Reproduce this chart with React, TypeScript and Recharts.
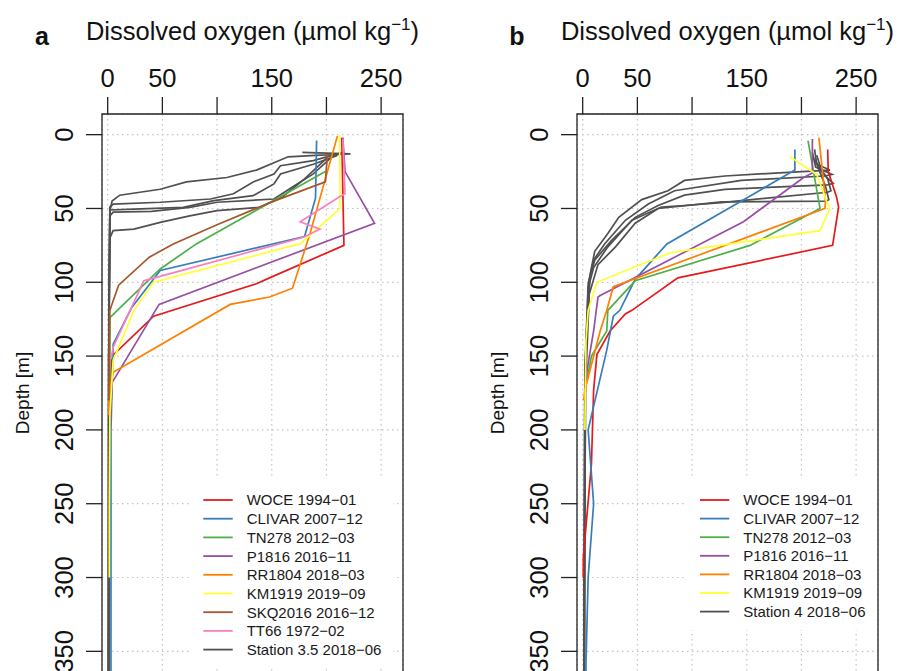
import React from 'react';
import { ScatterChart, Scatter, XAxis, YAxis, CartesianGrid, ReferenceArea, Legend } from 'recharts';

type Pt = [number, number]; // [oxygen µmol/kg, depth m]

const X_TICKS = [0, 50, 100, 150, 200, 250];
const X_TICK_LABELS: Record<number, string> = { 0: '0', 50: '50', 100: '', 150: '150', 200: '', 250: '250' };
const Y_TICKS = [0, 50, 100, 150, 200, 250, 300, 350];
const X_DOMAIN: [number, number] = [-5.2, 270];
const Y_DOMAIN: [number, number] = [-14, 364];

const FONT = "'Liberation Sans', Arial, Helvetica, sans-serif";

const COLORS = {
  woce: '#E41A1C',
  clivar: '#377EB8',
  tn278: '#4DAF4A',
  p1816: '#984EA3',
  rr1804: '#FF7F00',
  km1919: '#FFFF33',
  skq: '#A65628',
  tt66: '#F781BF',
  station: '#505050',
};

// ---------- Panel a ----------
const woceA: Pt[] = [[214, 2], [216, 75], [148, 97], [136, 101], [42, 123], [4, 150], [2, 175], [2, 200]];
const clivarA: Pt[] = [[191, 4], [190, 43], [180, 69], [48, 92], [22, 117], [5, 142], [3, 200], [3, 260], [3, 320], [3, 380]];
const tn278A: Pt[] = [[199, 25], [81, 74], [48, 91], [2, 124], [2, 200]];
const p1816A: Pt[] = [[215, 2], [217, 25], [244, 60], [47, 115], [4, 168], [2, 200]];
const rr1804A: Pt[] = [[210, 1], [185, 67], [169, 104], [148, 110], [112, 115], [5, 161], [1, 175], [1, 190]];
const km1919A: Pt[] = [[212, 0], [212.5, 50], [176, 74], [170, 75], [42, 100], [24, 119], [5, 153], [2, 190], [1.5, 250], [1.5, 300]];
const skqA: Pt[] = [[201, 13], [199, 32], [152, 45], [100, 61], [60, 74], [38, 83], [10, 102], [2, 119], [1, 180]];
const tt66A: Pt[] = [[215, 3], [217, 40], [212, 42], [176, 59], [194, 64], [179, 69.5], [33, 99], [5, 144], [3, 152]];
const stationA1: Pt[] = [[178, 12], [222, 13], [190, 14], [165, 15], [152, 19], [136, 24], [109, 29], [72, 32], [48, 37], [11, 41], [4, 45], [2, 52], [1, 120], [0.5, 380]];
const stationA2: Pt[] = [[215, 12], [188, 17.6], [158, 21], [152, 26.6], [133, 32], [115, 40], [94, 43.6], [48, 45.8], [5, 47], [2, 49], [1, 150], [0.5, 380]];
const stationA3: Pt[] = [[210, 14], [188, 20], [158, 26.6], [152, 33.4], [133, 41.3], [97, 44.7], [69, 49.2], [24, 50.4], [2, 51], [1, 150], [1, 380]];
const stationA4: Pt[] = [[205, 15], [188, 26.6], [170, 35], [152, 43.6], [100, 45.8], [75, 49.2], [40, 52], [5, 52.5], [2, 55], [1, 150], [1, 380]];
const stationA5: Pt[] = [[200, 16], [180, 30], [160, 42], [139, 49.2], [100, 51.5], [75, 55], [48, 59.4], [24, 64], [5, 65], [2, 70], [1, 150], [1, 380]];

// ---------- Panel b ----------
const woceB: Pt[] = [[224, 10], [224.5, 25], [232, 42], [234, 49], [228.5, 75], [87, 97], [45, 119], [39, 121.5], [25, 133], [13, 149], [10, 173], [8, 223], [0.6, 286], [0.5, 300]];
const clivarB: Pt[] = [[194, 10], [194, 24], [77, 74], [48, 98], [34, 119], [28, 123], [22, 146], [5, 200], [10, 250], [5, 300], [3, 358], [3, 380]];
const tn278B: Pt[] = [[206, 4], [217, 50], [153, 75], [48, 99], [23, 119], [22, 133], [8, 150], [3, 170]];
const p1816B: Pt[] = [[210, 3], [210, 26], [202, 29], [147, 59], [16, 109], [14, 110], [10, 133], [5, 155], [2, 170]];
const rr1804B: Pt[] = [[216, 2], [222, 45], [221.5, 50], [28, 103], [22, 119], [16, 133], [2, 173], [1, 180]];
const km1919B: Pt[] = [[189.5, 15], [214, 27], [223, 45], [226, 50], [217, 65], [80, 80], [13, 100], [5, 119], [3, 140], [2, 200]];
const stationB1: Pt[] = [[212, 10], [214, 20], [226, 24], [188, 25.5], [130, 28], [93, 31], [78, 38], [54, 44], [33, 56], [23, 67], [11, 79], [7, 94], [3, 140], [2, 250], [1.5, 380]];
const stationB2: Pt[] = [[210, 12], [213, 22], [228, 27], [221, 28], [145, 31], [84, 38], [60, 47], [39, 58], [20, 74], [10, 85], [5, 101], [2, 160], [1.5, 380]];
const stationB3: Pt[] = [[214, 14], [219, 26], [229, 33], [224, 34], [130, 37], [93, 41], [69, 48], [48, 56], [26, 72], [11, 85], [6, 98], [2, 160], [1, 380]];
const stationB4: Pt[] = [[211, 16], [224, 30], [227, 38], [224, 39], [127, 46], [93, 48], [72, 49], [45, 58], [23, 76], [10, 90], [5, 104], [2, 170], [1, 380]];
const stationB5: Pt[] = [[213, 18], [222, 35], [225, 44], [223, 45], [127, 45.5], [69, 50], [48, 60], [30, 76], [14, 88], [6, 108], [2, 180], [1.5, 380]];

type Series = { name: string; color: string; data: Pt[]; legend: boolean };

const SERIES_A: Series[] = [
  { name: 'Station 3.5 2018−06', color: COLORS.station, data: stationA1, legend: false },
  { name: 'Station 3.5 2018−06 (2)', color: COLORS.station, data: stationA2, legend: false },
  { name: 'Station 3.5 2018−06 (3)', color: COLORS.station, data: stationA3, legend: false },
  { name: 'Station 3.5 2018−06 (4)', color: COLORS.station, data: stationA4, legend: false },
  { name: 'Station 3.5 2018−06 (5)', color: COLORS.station, data: stationA5, legend: false },
  { name: 'WOCE 1994−01', color: COLORS.woce, data: woceA, legend: true },
  { name: 'CLIVAR 2007−12', color: COLORS.clivar, data: clivarA, legend: true },
  { name: 'TN278 2012−03', color: COLORS.tn278, data: tn278A, legend: true },
  { name: 'P1816 2016−11', color: COLORS.p1816, data: p1816A, legend: true },
  { name: 'RR1804 2018−03', color: COLORS.rr1804, data: rr1804A, legend: true },
  { name: 'KM1919 2019−09', color: COLORS.km1919, data: km1919A, legend: true },
  { name: 'SKQ2016 2016−12', color: COLORS.skq, data: skqA, legend: true },
  { name: 'TT66 1972−02', color: COLORS.tt66, data: tt66A, legend: true },
];
const LEGEND_A = [
  { name: 'WOCE 1994−01', color: COLORS.woce },
  { name: 'CLIVAR 2007−12', color: COLORS.clivar },
  { name: 'TN278 2012−03', color: COLORS.tn278 },
  { name: 'P1816 2016−11', color: COLORS.p1816 },
  { name: 'RR1804 2018−03', color: COLORS.rr1804 },
  { name: 'KM1919 2019−09', color: COLORS.km1919 },
  { name: 'SKQ2016 2016−12', color: COLORS.skq },
  { name: 'TT66 1972−02', color: COLORS.tt66 },
  { name: 'Station 3.5 2018−06', color: COLORS.station },
];

const SERIES_B: Series[] = [
  { name: 'Station 4 2018−06', color: COLORS.station, data: stationB1, legend: false },
  { name: 'Station 4 2018−06 (2)', color: COLORS.station, data: stationB2, legend: false },
  { name: 'Station 4 2018−06 (3)', color: COLORS.station, data: stationB3, legend: false },
  { name: 'Station 4 2018−06 (4)', color: COLORS.station, data: stationB4, legend: false },
  { name: 'Station 4 2018−06 (5)', color: COLORS.station, data: stationB5, legend: false },
  { name: 'WOCE 1994−01', color: COLORS.woce, data: woceB, legend: true },
  { name: 'CLIVAR 2007−12', color: COLORS.clivar, data: clivarB, legend: true },
  { name: 'TN278 2012−03', color: COLORS.tn278, data: tn278B, legend: true },
  { name: 'P1816 2016−11', color: COLORS.p1816, data: p1816B, legend: true },
  { name: 'RR1804 2018−03', color: COLORS.rr1804, data: rr1804B, legend: true },
  { name: 'KM1919 2019−09', color: COLORS.km1919, data: km1919B, legend: true },
];
const LEGEND_B = [
  { name: 'WOCE 1994−01', color: COLORS.woce },
  { name: 'CLIVAR 2007−12', color: COLORS.clivar },
  { name: 'TN278 2012−03', color: COLORS.tn278 },
  { name: 'P1816 2016−11', color: COLORS.p1816 },
  { name: 'RR1804 2018−03', color: COLORS.rr1804 },
  { name: 'KM1919 2019−09', color: COLORS.km1919 },
  { name: 'Station 4 2018−06', color: COLORS.station },
];

// ---------- layout ----------
const CHART_W = 418;
const CHART_H = 674;
const AXIS_TOP_H = 106;
const AXIS_LEFT_W = 94;
const MARGIN = { top: 0, right: 23, bottom: 10, left: 0 };
const PLOT_CX = AXIS_LEFT_W + (CHART_W - AXIS_LEFT_W - MARGIN.right) / 2;

type LegendBoxCfg = { left: number; top: number; width: number; height: number; first: number; step: number; lx1: number; lx2: number; tx: number };

const LegendBox = ({ entries, cfg }: { entries: { name: string; color: string }[]; cfg: LegendBoxCfg }) => (
  <svg width={cfg.width} height={cfg.height} style={{ display: 'block' }}>
    {entries.map((e, i) => {
      const cy = cfg.first + i * cfg.step;
      return (
        <g key={e.name}>
          <line x1={cfg.lx1} x2={cfg.lx2} y1={cy} y2={cy} stroke={e.color} strokeWidth={1.8} />
          <text x={cfg.tx} y={cy + 5.4} fontSize={15} fontFamily={FONT} fill="#1a1a1a">{e.name}</text>
        </g>
      );
    })}
  </svg>
);

const renderNothing = () => <g />;

const XTick = (props: any) => {
  const { x, payload } = props;
  const label = X_TICK_LABELS[payload.value] ?? '';
  if (!label) return <g />;
  return (
    <text x={x} y={78.5} textAnchor="middle" fontSize={25.5} fontFamily={FONT} fill="#111">{label}</text>
  );
};

const YTick = (props: any) => {
  const { y, payload } = props;
  const bx = 65;
  return (
    <text x={bx} y={y} transform={`rotate(-90 ${bx} ${y})`} textAnchor="middle" fontSize={25.5} fontFamily={FONT} fill="#111">
      {String(payload.value)}
    </text>
  );
};

const Panel = ({ letter, series, legend, legendCfg, left }: { letter: string; series: Series[]; legend: { name: string; color: string }[]; legendCfg: LegendBoxCfg; left: number }) => {
  const titleLabel = () => (
    <g>
      <text x={34} y={37} textAnchor="middle" fontSize={25} fontWeight="bold" fontFamily={FONT} fill="#111">{letter}</text>
      <text x={PLOT_CX} y={32} textAnchor="middle" fontSize={25.5} fontFamily={FONT} fill="#111">
        Dissolved oxygen (µmol kg
        <tspan fontSize={17} dy={-10}>−1</tspan>
        <tspan dy={10}>)</tspan>
      </text>
    </g>
  );
  const depthLabel = () => (
    <text x={21} y={385} transform={`rotate(-90 21 385)`} textAnchor="middle" fontSize={19} fontFamily={FONT} fill="#111">Depth [m]</text>
  );
  return (
    <div style={{ position: 'absolute', left, top: 0 }}>
      <ScatterChart width={CHART_W} height={CHART_H} margin={MARGIN}>
        <CartesianGrid stroke="#c4c4c4" strokeDasharray="1.5 3.5" strokeWidth={1.2} />
        <XAxis
          type="number"
          dataKey="o"
          orientation="top"
          domain={X_DOMAIN}
          ticks={X_TICKS}
          interval={0}
          allowDataOverflow
          height={AXIS_TOP_H}
          tickSize={17}
          tickLine={{ stroke: '#222', strokeWidth: 1.3 }}
          axisLine={false}
          tick={<XTick />}
          label={titleLabel}
        />
        <YAxis
          type="number"
          dataKey="d"
          domain={Y_DOMAIN}
          reversed
          ticks={Y_TICKS}
          interval={0}
          allowDataOverflow
          width={AXIS_LEFT_W}
          tickSize={16}
          tickLine={{ stroke: '#222', strokeWidth: 1.3 }}
          axisLine={false}
          tick={<YTick />}
          label={depthLabel}
        />
        {series.map((s) => (
          <Scatter
            key={s.name}
            name={s.name}
            data={s.data.map(([o, d]) => ({ o, d }))}
            fill={s.color}
            line={{ stroke: s.color, strokeWidth: 1.7 }}
            lineType="joint"
            shape={renderNothing}
            legendType={s.legend ? 'line' : 'none'}
            isAnimationActive={false}
          />
        ))}
        <ReferenceArea
          x1={X_DOMAIN[0]}
          x2={X_DOMAIN[1]}
          y1={Y_DOMAIN[0]}
          y2={Y_DOMAIN[1]}
          fill="none"
          fillOpacity={0}
          stroke="#222"
          strokeWidth={1.3}
          ifOverflow="visible"
        />
        <Legend
          layout="horizontal"
          align="center"
          verticalAlign="middle"
          wrapperStyle={{ position: 'absolute', left: legendCfg.left, top: legendCfg.top, width: legendCfg.width, height: legendCfg.height, background: '#fff', margin: 0, padding: 0 }}
          content={() => <LegendBox entries={legend} cfg={legendCfg} />}
        />
      </ScatterChart>
    </div>
  );
};

const LEGEND_CFG_A: LegendBoxCfg = { left: 184, top: 469, width: 201, height: 191, first: 23, step: 18.7, lx1: 11.3, lx2: 40.7, tx: 54.7 };
const LEGEND_CFG_B: LegendBoxCfg = { left: 203, top: 470, width: 189, height: 152, first: 22, step: 18.6, lx1: 14, lx2: 43.3, tx: 57.3 };

export default function App() {
  return (
    <div style={{ position: 'relative', width: 893, height: 663, overflow: 'hidden', background: '#fff', fontFamily: FONT }}>
      <Panel letter="a" series={SERIES_A} legend={LEGEND_A} legendCfg={LEGEND_CFG_A} left={0} />
      <Panel letter="b" series={SERIES_B} legend={LEGEND_B} legendCfg={LEGEND_CFG_B} left={475} />
    </div>
  );
}
